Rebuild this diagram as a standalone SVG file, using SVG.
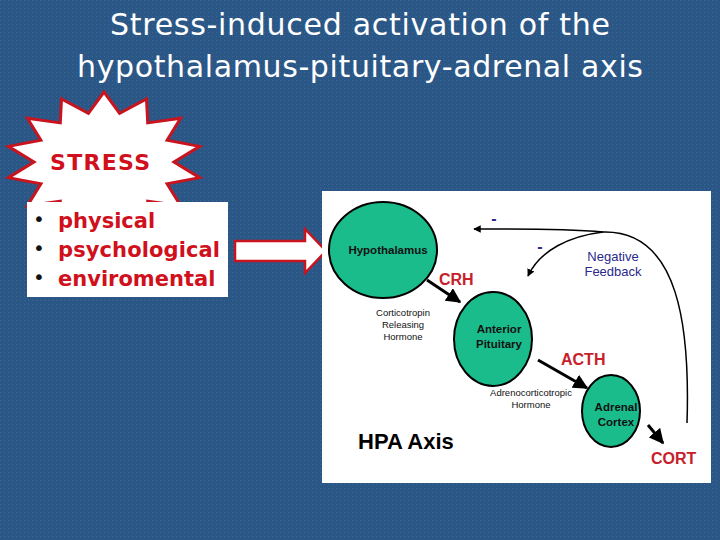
<svg xmlns="http://www.w3.org/2000/svg" width="720" height="540" viewBox="0 0 720 540">
<defs>
<pattern id="dots" width="4" height="4" patternUnits="userSpaceOnUse"><rect width="4" height="4" fill="#2b5787"/><rect width="1" height="1" fill="#3a6796"/></pattern>
<marker id="ah" viewBox="0 0 10 10" refX="9" refY="5" markerWidth="5" markerHeight="5" orient="auto"><path d="M0,0 L10,5 L0,10 z" fill="#000"/></marker>
</defs>
<style>
.node{fill:#1abc8c;stroke:#000;stroke-width:2}
.nl{font-family:"Liberation Sans",Arial,sans-serif;font-weight:bold;font-size:11.5px;fill:#111;text-anchor:middle}
.hl{font-family:"Liberation Sans",Arial,sans-serif;font-weight:bold;font-size:16px;fill:#c8202a}
.sm{font-family:"Liberation Sans",Arial,sans-serif;font-size:9.5px;fill:#111;text-anchor:middle}
.st{font-family:"DejaVu Sans",Verdana,sans-serif;font-weight:bold;font-size:21px;fill:#d0101c}
.ttl{font-family:"DejaVu Sans",sans-serif;font-size:30px;fill:#fff;text-anchor:middle}
</style>
<rect width="720" height="540" fill="url(#dots)"/>
<text class="ttl" x="360" y="35" textLength="500">Stress-induced activation of the</text>
<text class="ttl" x="360" y="77" textLength="566">hypothalamus-pituitary-adrenal axis</text>
<g id="stress">
<polygon points="104,92 119.6,113.3 146.5,98.9 147.7,122.9 180.6,118.3 167.1,140.3 199.6,146.4 174,162 199.6,177.6 167.1,183.7 180.6,205.7 147.7,201.1 146.5,225.1 119.6,210.7 104,232 88.4,210.7 61.5,225.1 60.3,201.1 27.4,205.7 40.9,183.7 8.4,177.6 34,162 8.4,146.4 40.9,140.3 27.4,118.3 60.3,122.9 61.5,98.9 88.4,113.3" fill="#fff" stroke="#c8141e" stroke-width="3"/>
<text class="st" x="50" y="170" style="font-size:22px" textLength="100">STRESS</text>
</g>
<g id="list">
<rect x="27" y="202" width="201" height="95" fill="#fff"/>
<g class="st"><text x="58" y="228">physical</text><text x="58" y="257" textLength="162">psychological</text><text x="58" y="286">enviromental</text></g>
<g font-family="DejaVu Sans,sans-serif" font-size="20" fill="#111"><text x="33" y="226">•</text><text x="33" y="255">•</text><text x="33" y="284">•</text></g>
</g>
<g id="bigarrow"><polygon points="235,241 305,241 305,229 326,251 305,273 305,261 235,261" fill="#fff" stroke="#c8141e" stroke-width="2.5"/></g>
<rect x="322" y="191" width="389" height="292" fill="#fff"/>
<g id="connectors" fill="none" stroke="#000">
<line x1="427" y1="280" x2="460" y2="302" stroke-width="3" marker-end="url(#ah)"/>
<line x1="538" y1="360" x2="587" y2="388" stroke-width="3" marker-end="url(#ah)"/>
<line x1="648" y1="425" x2="663" y2="443" stroke-width="3" marker-end="url(#ah)"/>
<path d="M687,423 C690,330 680,230 603,232 C560,228 520,229 474,229" stroke-width="1.5" marker-end="url(#ah)"/>
<path d="M603,232 C570,236 540,250 528,276" stroke-width="1.5" marker-end="url(#ah)"/>
</g>
<g id="hypothalamus"><ellipse class="node" cx="383" cy="250" rx="54" ry="48"/><text class="nl" x="388" y="254">Hypothalamus</text></g>
<g id="pituitary"><ellipse class="node" cx="493" cy="339" rx="39" ry="47"/><text class="nl" x="499" y="333">Anterior</text><text class="nl" x="499" y="348">Pituitary</text></g>
<g id="adrenal"><ellipse class="node" cx="611" cy="411" rx="29" ry="36"/><text class="nl" x="616" y="411">Adrenal</text><text class="nl" x="616" y="426">Cortex</text></g>
<g id="labels">
<text class="hl" x="439" y="285">CRH</text>
<text class="hl" x="561" y="365">ACTH</text>
<text class="hl" x="651" y="464">CORT</text>
<text class="sm" x="403" y="316">Corticotropin</text><text class="sm" x="403" y="328">Releasing</text><text class="sm" x="403" y="340">Hormone</text>
<text class="sm" x="531" y="396">Adrenocorticotropic</text><text class="sm" x="531" y="408">Hormone</text>
<text x="613" y="261" font-family="Liberation Sans,Arial,sans-serif" font-size="13" fill="#2a2a8a" text-anchor="middle">Negative</text>
<text x="613" y="276" font-family="Liberation Sans,Arial,sans-serif" font-size="13" fill="#2a2a8a" text-anchor="middle">Feedback</text>
<text x="494" y="224" font-family="Liberation Sans,Arial,sans-serif" font-size="16" font-weight="bold" fill="#2a2a8a" text-anchor="middle">-</text>
<text x="540" y="252" font-family="Liberation Sans,Arial,sans-serif" font-size="16" font-weight="bold" fill="#2a2a8a" text-anchor="middle">-</text>
<text x="358" y="449" font-family="Liberation Sans,Arial,sans-serif" font-size="22" font-weight="bold" fill="#000">HPA  Axis</text>
</g>
</svg>
